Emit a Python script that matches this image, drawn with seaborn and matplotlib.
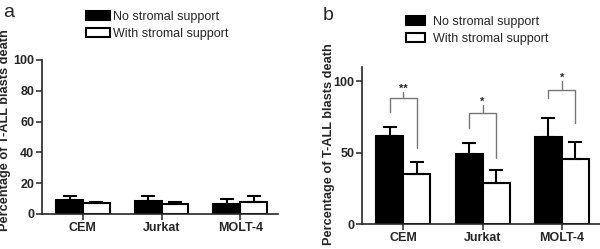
import numpy as np
import pandas as pd
import matplotlib
matplotlib.use('Agg')
import matplotlib.pyplot as plt
import seaborn as sns

cells = ['CEM', 'Jurkat', 'MOLT-4']
groups = ['No stromal support', 'With stromal support']

# panel a
a_no = [9.0, 8.6, 6.7]
a_no_err = [2.6, 3.2, 3.2]
a_with = [6.9, 6.7, 7.7]
a_with_err = [1.1, 1.0, 3.7]

# panel b
b_no = [61.5, 48.7, 61.0]
b_no_err = [6.1, 8.2, 12.9]
b_with = [34.7, 28.9, 45.2]
b_with_err = [8.9, 8.9, 11.9]

# significance brackets in panel b
br_top = [88.3, 77.9, 93.7]
br_left = [78.5, 66.9, 87.9]
br_right = [52.9, 45.9, 70.4]
br_tick = [92.5, 83.2, 100.2]
stars = ['**', '*', '*']

sns.set_style('ticks')
plt.rcParams['font.family'] = ['Liberation Sans', 'DejaVu Sans']
plt.rcParams['axes.linewidth'] = 1.2

fig = plt.figure(figsize=(6, 2.49), dpi=100)
ax_a = fig.add_axes([0.07, 0.1406, 0.3933, 0.6185])
ax_b = fig.add_axes([0.6033, 0.1004, 0.3967, 0.6317])


def make_df(no, with_):
    return pd.DataFrame({
        'cell': cells * 2,
        'group': [groups[0]] * 3 + [groups[1]] * 3,
        'value': list(no) + list(with_),
    })


def draw(ax, no, no_err, with_, with_err, ylim, yticks, legend_pos, hlen, tpad):
    df = make_df(no, with_)
    sns.barplot(data=df, x='cell', y='value', hue='group', ax=ax,
                palette=['black', 'white'], edgecolor='black', linewidth=1.5,
                width=0.68, errorbar=None, saturation=1)
    centers = []
    for cont, err in zip(ax.containers, [no_err, with_err]):
        xs = [b.get_x() + b.get_width() / 2 for b in cont]
        hs = [b.get_height() for b in cont]
        centers.append(xs)
        ax.errorbar(xs, hs, yerr=[np.zeros(len(err)), err], fmt='none',
                    ecolor='black', elinewidth=1.5, capsize=4.8, capthick=1.5,
                    zorder=1)
    ax.set_ylim(*ylim)
    ax.set_yticks(yticks)
    ax.set_xlim(-0.52, 2.48)
    ax.set_xlabel('')
    ax.set_ylabel('Percentage of T-ALL blasts death', fontsize=9.2, fontweight='bold')
    ax.tick_params(length=4, width=1.1, labelsize=9, pad=1.5)
    for lab in ax.get_xticklabels() + ax.get_yticklabels():
        lab.set_fontweight('bold')
    sns.despine(ax=ax)
    sns.move_legend(ax, 'upper left', bbox_to_anchor=legend_pos,
                    bbox_transform=fig.transFigure, frameon=False, title=None,
                    fontsize=9, handlelength=hlen, handleheight=0.75,
                    handletextpad=tpad, labelspacing=0.38, borderpad=0,
                    borderaxespad=0)
    return centers


draw(ax_a, a_no, a_no_err, a_with, a_with_err, (0, 100), [0, 20, 40, 60, 80, 100],
     (86 / 600, 1 - 11 / 249), 1.9, 0.25)
ax_a.yaxis.set_label_coords(-0.13, 0.545)

cb = draw(ax_b, b_no, b_no_err, b_with, b_with_err, (0, 110), [0, 50, 100],
          (406 / 600, 1 - 16 / 249), 1.55, 0.6)
ax_b.yaxis.set_label_coords(-0.115, 0.51)

for i in range(3):
    xl, xr = cb[0][i], cb[1][i]
    xm = (xl + xr) / 2
    ax_b.plot([xl, xl, xr, xr], [br_left[i], br_top[i], br_top[i], br_right[i]],
              color='#777777', lw=1.0, clip_on=False)
    ax_b.plot([xm, xm], [br_top[i], br_tick[i]], color='#777777', lw=1.0, clip_on=False)
    ax_b.text(xm, br_tick[i] - 1.5, stars[i], ha='center', va='bottom',
              fontsize=8, fontweight='bold')

fig.text(0.005, 0.932, 'a', fontsize=14)
fig.text(0.537, 0.918, 'b', fontsize=14)

fig.savefig('out.png', dpi=100)
